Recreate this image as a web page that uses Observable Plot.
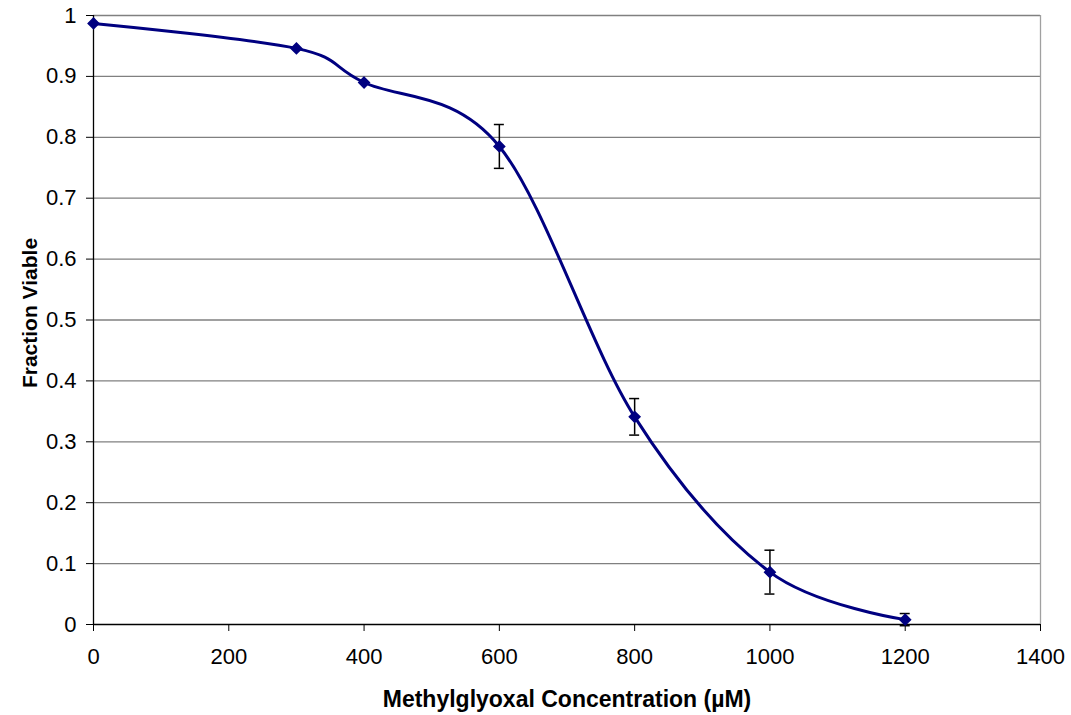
<!DOCTYPE html>
<html>
<head>
<meta charset="utf-8">
<script src="https://cdn.jsdelivr.net/npm/d3@7"></script>
<script src="https://cdn.jsdelivr.net/npm/@observablehq/plot@0.6"></script>
<style>
  html, body { margin: 0; padding: 0; background: #fff; }
  #chart { width: 1071px; height: 715px; }
  #chart svg text { font-family: 'Liberation Sans', Arial, sans-serif; }
</style>
</head>
<body>
<div id="chart"></div>
<script>
// Methylglyoxal dose–response: fraction of viable cells
const concentration = [0, 300, 400, 600, 800, 1000, 1200];
const fractionViable = [0.987, 0.946, 0.890, 0.785, 0.341, 0.086, 0.008];
const errorHalf = [null, null, null, 0.036, 0.030, 0.036, 0.010];

const xTicks = [0, 200, 400, 600, 800, 1000, 1200, 1400];
const yTicks = [0, 0.1, 0.2, 0.3, 0.4, 0.5, 0.6, 0.7, 0.8, 0.9, 1];

const points = concentration.map((c, i) => ({x: c, y: fractionViable[i], e: errorHalf[i]}));
const withErr = points.filter(d => d.e != null);

const navy = "#000080";
const font = "'Liberation Sans', Arial, sans-serif";

const chart = Plot.plot({
  width: 1071,
  height: 715,
  marginLeft: 93,
  marginRight: 31,
  marginTop: 15,
  marginBottom: 91,
  style: {fontFamily: font, fontSize: "21px", color: "#000", background: "#fff"},
  x: {domain: [0, 1400]},
  y: {domain: [0, 1]},
  marks: [
    // horizontal gridlines
    Plot.ruleY(yTicks.filter(v => v > 0), {stroke: "#808080", strokeWidth: 1.3}),
    // right border of the plot area
    Plot.ruleX([1400], {stroke: "#a0a0a0", strokeWidth: 1.3}),
    // axes
    Plot.axisX({ticks: xTicks, tickSize: 7, tickPadding: 17, tickFormat: d3.format("d"),
      label: "Methylglyoxal Concentration (µM)", labelAnchor: "center", labelArrow: "none", labelOffset: 82}),
    Plot.axisY({ticks: yTicks, tickSize: 7, tickPadding: 10, tickFormat: d => d3.format("")(d),
      label: "Fraction Viable", labelAnchor: "center", labelArrow: "none", labelOffset: 71}),
    Plot.ruleY([0], {stroke: "#000", strokeWidth: 1.3}),
    Plot.ruleX([0], {stroke: "#000", strokeWidth: 1.3}),
    // smoothed curve through the measurements
    Plot.line(points, {x: "x", y: "y", curve: "cardinal", stroke: navy, strokeWidth: 3}),
    // error bars with caps
    Plot.ruleX(withErr, {x: "x", y1: d => d.y - d.e, y2: d => d.y + d.e, stroke: "#000", strokeWidth: 1.5}),
    Plot.ruleY(withErr, {x1: "x", x2: "x", y: d => d.y + d.e, insetLeft: -5, insetRight: -5, stroke: "#000", strokeWidth: 1.5}),
    Plot.ruleY(withErr, {x1: "x", x2: "x", y: d => d.y - d.e, insetLeft: -5, insetRight: -5, stroke: "#000", strokeWidth: 1.5}),
    // diamond markers
    Plot.dot(points, {x: "x", y: "y", symbol: "diamond2", r: 4.8, fill: navy, stroke: navy, strokeWidth: 1.5})
  ]
});

// tick labels and bold axis titles
d3.select(chart).selectAll("[aria-label='x-axis tick label'] text, [aria-label='y-axis tick label'] text")
  .style("font-size", "22px");
d3.select(chart).selectAll("[aria-label='x-axis label'] text")
  .style("font-weight", "bold").style("font-size", "23px");
d3.select(chart).selectAll("[aria-label='y-axis label'] text")
  .style("font-weight", "bold").style("font-size", "21px")
  .attr("transform", function() { return "translate(0,-7) " + (this.getAttribute("transform") || ""); });

document.getElementById("chart").appendChild(chart);
</script>
</body>
</html>
